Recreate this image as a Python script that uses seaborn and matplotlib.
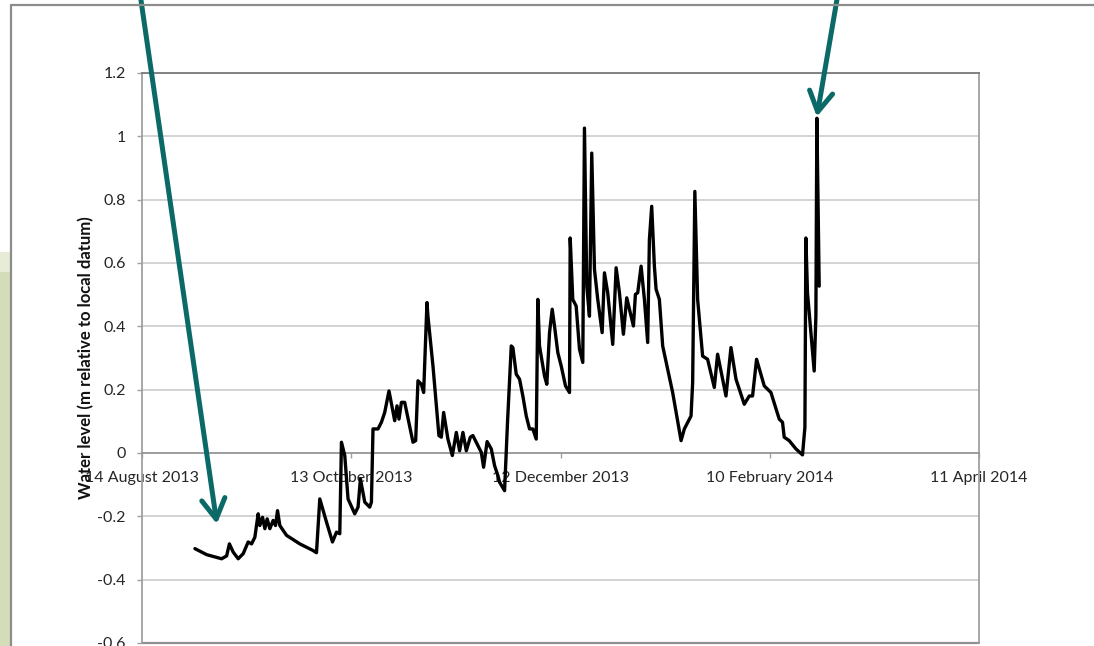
import numpy as np
import pandas as pd
import matplotlib
matplotlib.use("Agg")
import matplotlib.pyplot as plt
from matplotlib.lines import Line2D
from matplotlib.patches import Rectangle, ArrowStyle
import seaborn as sns

# ---- water level record (days since 14 Aug 2013, level in m rel. to local datum)
record_start = "2013-08-14"
elapsed_days = [
    15.18, 18.53, 22.83, 24.26, 25.06, 26.15, 27.58, 29.01, 30.44, 31.42,
    32.36, 33.31, 33.79, 34.57, 35.23, 35.89, 36.66, 37.60, 38.29, 38.86,
    39.52, 41.44, 45.25, 49.06, 50.03, 50.98, 52.90, 54.62, 55.76, 56.71,
    57.19, 58.14, 59.08, 61.00, 61.95, 62.63, 63.87, 65.30, 65.78, 66.24,
    67.67, 68.65, 69.59, 70.82, 72.46, 73.12, 73.69, 74.38, 75.32, 77.70,
    78.47, 79.13, 80.10, 80.76, 81.71, 81.99, 83.43, 85.14, 85.83, 86.49,
    87.72, 88.98, 90.13, 91.07, 92.02, 92.99, 94.14, 94.88, 97.29, 97.95,
    98.95, 100.15, 101.10, 102.04, 102.53, 103.96, 104.82, 105.88, 106.34, 107.31,
    108.26, 109.20, 110.18, 111.12, 112.07, 113.04, 113.50, 113.98, 115.42, 116.08,
    116.85, 117.62, 118.28, 119.23, 120.20, 121.43, 122.58, 122.78, 123.52, 124.49,
    125.44, 126.39, 126.87, 127.53, 128.30, 128.96, 129.74, 130.68, 131.94, 132.60,
    133.54, 134.98, 135.95, 136.90, 138.04, 138.99, 139.76, 140.91, 141.48, 142.14,
    143.11, 144.06, 145.00, 145.49, 146.15, 146.92, 147.41, 148.35, 149.30, 152.16,
    154.57, 155.51, 157.43, 157.89, 158.52, 159.32, 160.75, 162.18, 164.10, 165.05,
    167.45, 168.88, 170.32, 172.69, 174.13, 175.07, 176.22, 178.42, 180.34, 182.72,
    183.66, 184.15, 185.58, 187.50, 189.39, 190.08, 190.36, 190.82, 192.74, 193.23,
    193.51, 194.18,
]
water_level_m = [
    -0.302, -0.321, -0.334, -0.325, -0.287, -0.313, -0.334, -0.318, -0.281, -0.287,
    -0.266, -0.192, -0.229, -0.203, -0.239, -0.208, -0.239, -0.213, -0.229, -0.182,
    -0.229, -0.260, -0.287, -0.308, -0.315, -0.145, -0.218, -0.281, -0.250, -0.255,
    0.034, -0.008, -0.145, -0.192, -0.171, -0.082, -0.155, -0.171, -0.155, 0.076,
    0.076, 0.097, 0.128, 0.196, 0.102, 0.149, 0.107, 0.160, 0.160, 0.034,
    0.039, 0.228, 0.217, 0.191, 0.475, 0.432, 0.275, 0.055, 0.050, 0.128,
    0.044, -0.008, 0.065, 0.007, 0.065, 0.007, 0.050, 0.055, 0.002, -0.045,
    0.036, 0.013, -0.040, -0.071, -0.092, -0.119, 0.100, 0.338, 0.333, 0.249,
    0.233, 0.180, 0.117, 0.076, 0.076, 0.044, 0.485, 0.338, 0.243, 0.217,
    0.380, 0.454, 0.401, 0.317, 0.275, 0.212, 0.191, 0.679, 0.485, 0.464,
    0.328, 0.286, 1.026, 0.527, 0.432, 0.947, 0.580, 0.485, 0.380, 0.569,
    0.506, 0.343, 0.585, 0.506, 0.375, 0.490, 0.454, 0.401, 0.501, 0.506,
    0.590, 0.485, 0.349, 0.674, 0.779, 0.590, 0.517, 0.485, 0.338, 0.191,
    0.039, 0.076, 0.117, 0.222, 0.826, 0.485, 0.306, 0.296, 0.207, 0.312,
    0.180, 0.333, 0.233, 0.154, 0.180, 0.180, 0.296, 0.212, 0.191, 0.107,
    0.097, 0.050, 0.039, 0.013, -0.006, 0.081, 0.679, 0.506, 0.259, 0.432,
    1.057, 0.527,
]

# axis ticks
date_ticks = ["2013-08-14", "2013-10-13", "2013-12-12", "2014-02-10", "2014-04-11"]
date_tick_labels = ["14 August 2013", "13 October 2013", "12 December 2013",
                    "10 February 2014", "11 April 2014"]
level_ticks = [-0.6, -0.4, -0.2, 0.0, 0.2, 0.4, 0.6, 0.8, 1.0, 1.2]
level_tick_labels = ["-0.6", "-0.4", "-0.2", "0", "0.2", "0.4", "0.6", "0.8", "1", "1.2"]

# callout arrow target for the late-summer low
low_callout = ("2013-09-04 11:30", -0.224)

df = pd.DataFrame({
    "time": pd.Timestamp(record_start) + pd.to_timedelta(elapsed_days, unit="D"),
    "level": water_level_m,
})

sns.set_theme(style="white")
plt.rcParams["font.family"] = ["Lato", "DejaVu Sans"]

W, H = 1094, 646
fig = plt.figure(figsize=(W / 100, H / 100), dpi=100)
fig.patch.set_facecolor("white")

# slide decoration at the left edge
fig.add_artist(Rectangle((0, 0), 10 / W, (H - 272) / H, transform=fig.transFigure,
                         facecolor="#d4ddb9", edgecolor="none", zorder=0))
fig.add_artist(Rectangle((0, (H - 272) / H), 10 / W, 20 / H, transform=fig.transFigure,
                         facecolor="#e6ecd8", edgecolor="none", zorder=0))
# chart-area frame
frame_kw = dict(transform=fig.transFigure, color="#8c8c8c", linewidth=1.6, zorder=1)
fig.add_artist(Line2D([10.5 / W, 1.0], [1 - 5 / H, 1 - 5 / H], **frame_kw))
fig.add_artist(Line2D([10.5 / W, 10.5 / W], [0, 1 - 5 / H], **frame_kw))

ax = fig.add_axes([142 / W, 3 / H, (979 - 142) / W, (643 - 73) / H])
ax.set_facecolor("white")

sns.lineplot(data=df, x="time", y="level", color="black", linewidth=2.4, ax=ax,
             legend=False, zorder=3)

ax.set_xlim(pd.Timestamp(date_ticks[0]), pd.Timestamp(date_ticks[-1]))
ax.set_ylim(level_ticks[0], level_ticks[-1])

ax.set_xticks(pd.to_datetime(date_ticks))
ax.set_xticklabels(date_tick_labels)
ax.set_yticks(level_ticks)
ax.set_yticklabels(level_tick_labels)

ax.grid(axis="y", color="#c8c8c8", linewidth=1.1)
ax.grid(axis="x", visible=False)
ax.set_axisbelow(True)

# horizontal axis crosses at zero
ax.spines["bottom"].set_position(("data", 0))
ax.spines["bottom"].set_color("#8f8f8f")
ax.spines["bottom"].set_linewidth(1.1)
for side in ("left", "right"):
    ax.spines[side].set_color("#a0a0a0")
    ax.spines[side].set_linewidth(1.3)
ax.spines["top"].set_color("#7a7a7a")
ax.spines["top"].set_linewidth(1.3)
ax.axhline(level_ticks[0], color="#8f8f8f", linewidth=1.6, clip_on=False, zorder=2)

ax.tick_params(axis="both", which="major", direction="out", length=3.6, width=1,
               color="#a0a0a0", labelsize=11.5, labelcolor="#262626")
ax.tick_params(axis="x", pad=9.3, bottom=True)
ax.tick_params(axis="y", pad=8, left=True)

ax.set_xlabel("")
ax.set_ylabel("Water level (m relative to local datum)", fontweight="bold",
              fontsize=12.1, color="#111111", va="center")
ax.yaxis.set_label_coords((86 - 142) / (979 - 142), 0.5)

# callout arrows
arrow_color = "#0b6a67"
style = ArrowStyle("->", head_length=0.72, head_width=0.42)
arrow_kw = dict(arrowstyle=style, color=arrow_color, linewidth=3.6,
                mutation_scale=20, shrinkA=0, shrinkB=0,
                capstyle="round", joinstyle="round")
ax.annotate("", xy=(pd.Timestamp(low_callout[0]), low_callout[1]),
            xytext=(139.5, H + 10), textcoords="figure pixels",
            arrowprops=arrow_kw, annotation_clip=False, zorder=6)
peak = df.loc[df["level"].idxmax()]
ax.annotate("", xy=(peak["time"], peak["level"] + 0.005),
            xytext=(838.6, H + 10), textcoords="figure pixels",
            arrowprops=arrow_kw, annotation_clip=False, zorder=6)

fig.savefig("out.png", dpi=100, facecolor="white")
